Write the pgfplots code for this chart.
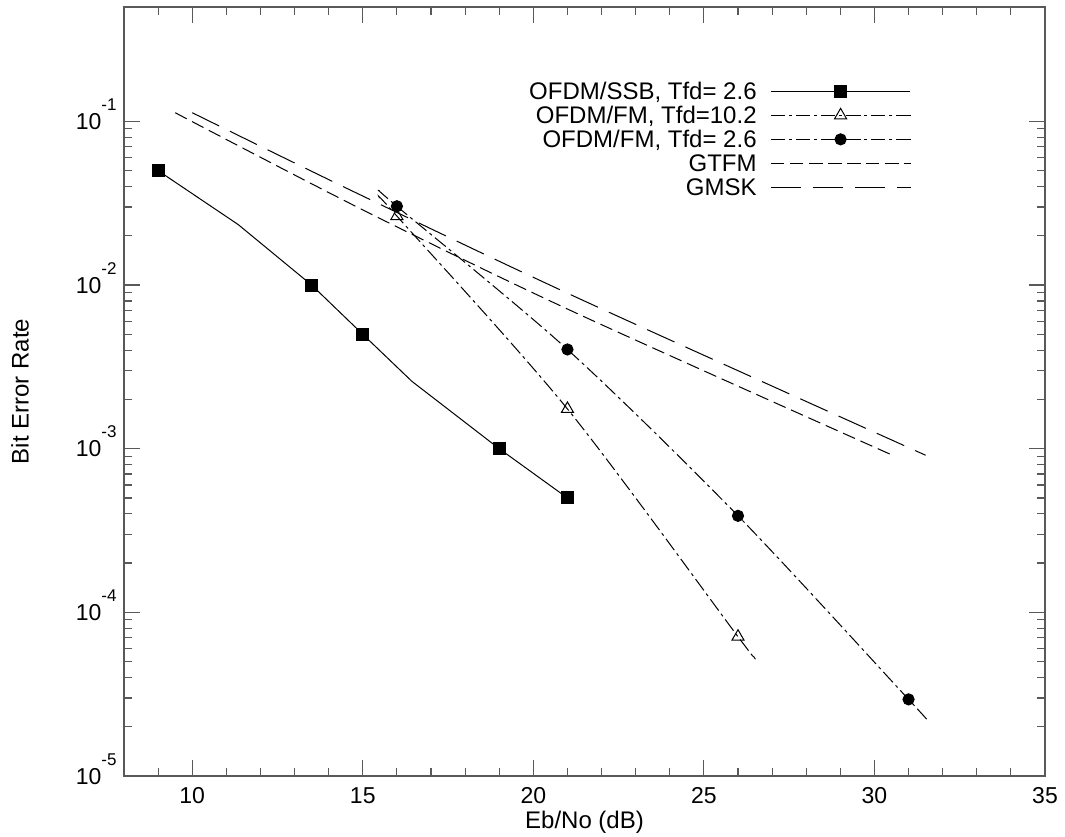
\documentclass[border=0pt]{standalone}
\usepackage{fontspec}
\setmainfont{Liberation Sans}
\usepackage{pgfplots}
\pgfplotsset{compat=1.18}
\newcommand{\ex}[1]{10\raisebox{9.5pt}{\fontsize{8.5}{8.5}\selectfont #1}}
\begin{document}
\begin{tikzpicture}
\begin{semilogyaxis}[
  scale only axis, width=460.5pt, height=384.5pt,
  xmin=8, xmax=35, ymin=1e-5, ymax=0.5,
  xtick={10,15,...,35}, minor xtick={8,...,35},
  ytick={1e-5,1e-4,1e-3,1e-2,1e-1},
  yticklabels={\ex{-5},\ex{-4},\ex{-3},\ex{-2},\ex{-1}},
  major tick length=8pt, minor tick length=4pt,
  axis line style={black!65, line width=0.8pt},
  tick style={black!65, line width=0.6pt},
  /pgf/number format/assume math mode=true,
  tick label style={font=\fontsize{11.5}{12}\selectfont, inner sep=0pt},
  xticklabel style={anchor=base, yshift=-13.5pt},
  yticklabel style={anchor=base east, yshift=-4.1pt, xshift=-3.5pt},
  xlabel={Eb/No (dB)}, ylabel={Bit Error Rate},
  label style={font=\fontsize{12}{14}\selectfont, inner sep=0pt},
  xlabel style={at={(axis description cs:0.5,0)}, anchor=base, yshift=-26pt},
  ylabel style={at={(axis description cs:-0.1129,0.5)}, anchor=center},
  legend plot pos=right, legend cell align=right,
  legend style={draw=none, fill=none, at={(0.8545,0.902)}, anchor=north east,
    inner sep=0pt, row sep=3.4pt, column sep=7pt,
    font=\fontsize{12}{12}\selectfont,
    nodes={inner sep=0pt, text height=8.6pt, text depth=0pt}},
  legend image code/.code={\draw[#1, mark indices={2}] plot coordinates {(0pt,0pt) (34.75pt,0pt) (69.5pt,0pt)};},
  every axis plot/.append style={line width=0.5pt, black},
]
\addplot[mark=square*, mark size=3pt, mark options={solid}, mark indices={1,3,4,6,7}]
  coordinates {(9,0.05) (11.35,0.0234) (13.5,0.01) (15,0.005) (16.44,0.00258) (19,0.001) (21,0.0005)};
\addlegendentry{OFDM/SSB, Tfd= 2.6}
\addplot[smooth, dash pattern=on 7pt off 2pt on 1.5pt off 2pt, mark=triangle, mark size=3.5pt, mark options={solid}, mark indices={2,3,4}]
  coordinates {(15.5,0.034) (16,0.0264) (21,0.00175) (26,7.1e-5) (26.45,5.4e-5)};
\addlegendentry{OFDM/FM, Tfd=10.2}
\addplot[smooth, dash pattern=on 7pt off 2pt on 1.5pt off 2pt, mark=*, mark size=2.8pt, mark options={solid}, mark indices={2,3,4,5}]
  coordinates {(15.5,0.0375) (16,0.0303) (21,0.00404) (26,3.89e-4) (31,2.94e-5) (31.5,2.25e-5)};
\addlegendentry{OFDM/FM, Tfd= 2.6}
\addplot[smooth, dash pattern=on 6.5pt off 3pt]
  coordinates {(9.5,0.113) (15,0.0288) (21.1,0.00698) (30.5,0.000918)};
\addlegendentry{GTFM}
\addplot[smooth, dash pattern=on 15pt off 6pt]
  coordinates {(10,0.113) (14.7,0.0375) (21.2,0.00853) (31.5,0.000912)};
\addlegendentry{GMSK}
\path (rel axis cs:0,0) ++(-62pt,-30pt) coordinate (bbsw);
\path (rel axis cs:1,1) ++(10pt,3.5pt) coordinate (bbne);
\end{semilogyaxis}
\pgfresetboundingbox
\path[use as bounding box] (bbsw) rectangle (bbne);
\end{tikzpicture}
\end{document}
